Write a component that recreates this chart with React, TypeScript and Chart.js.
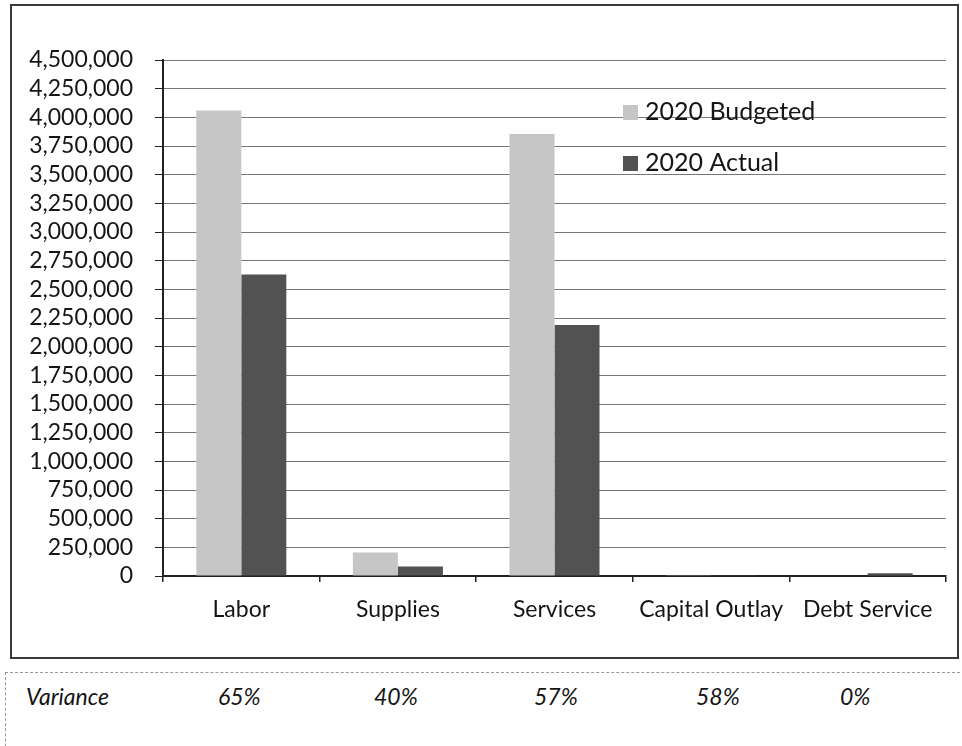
import React, { useEffect, useRef } from "react";
import { Chart, registerables } from "chart.js";

Chart.register(...registerables);

const categories = ["Labor", "Supplies", "Services", "Capital Outlay", "Debt Service"];
const budgeted2020 = [4060000, 206000, 3855000, 3000, 0];
const actual2020 = [2630000, 82000, 2190000, 1750, 24000];
const seriesLabels = ["2020 Budgeted", "2020 Actual"];
const varianceTitle = "Variance";
const varianceLabels = ["65%", "40%", "57%", "58%", "0%"];
const yMax = 4500000;
const yStep = 250000;

const FONT = "Lato, 'Noto Sans', sans-serif";
const FONT_SIZE = 23;
const LEGEND_SIZE = 25;
const varianceLeft = [218, 374, 534, 696, 840];
const legendY = [112, 163];

const insideLegend = {
  id: "insideLegend",
  afterDraw(chart: any) {
    const ctx = chart.ctx;
    ctx.save();
    chart.data.datasets.forEach((ds: any, i: number) => {
      const y = legendY[i];
      ctx.fillStyle = ds.backgroundColor;
      ctx.fillRect(623, y - 7, 15, 15);
      ctx.fillStyle = "#151515";
      ctx.font = `${LEGEND_SIZE}px ${FONT}`;
      ctx.textBaseline = "middle";
      ctx.textAlign = "left";
      ctx.fillText(ds.label, 645, y);
    });
    ctx.restore();
  },
};

export default function App() {
  const ref = useRef<HTMLCanvasElement>(null);
  useEffect(() => {
    const chart = new Chart(ref.current!, {
      type: "bar",
      data: {
        labels: categories,
        datasets: [
          { label: seriesLabels[0], data: budgeted2020, backgroundColor: "#c6c6c6" },
          { label: seriesLabels[1], data: actual2020, backgroundColor: "#525252" },
        ],
      },
      options: {
        animation: false,
        responsive: false,
        maintainAspectRatio: false,
        devicePixelRatio: 1,
        layout: { padding: { left: 0, top: 60, right: 16, bottom: 14 } },
        datasets: { bar: { categoryPercentage: 0.575, barPercentage: 1 } },
        plugins: { legend: { display: false }, tooltip: { enabled: false } },
        scales: {
          x: {
            grid: { drawOnChartArea: false, drawTicks: true, tickLength: 6, color: "#222", lineWidth: 1.5 },
            border: { display: true, color: "#222", width: 2 },
            ticks: { color: "#151515", font: { family: FONT, size: FONT_SIZE }, padding: 14, maxRotation: 0, autoSkip: false },
            afterFit(scale: any) { scale.height = 70; },
          },
          y: {
            min: 0,
            max: yMax,
            grid: { color: "#777777", lineWidth: 1, tickLength: 8, tickColor: "#222" },
            border: { display: true, color: "#222", width: 2 },
            ticks: {
              stepSize: yStep,
              autoSkip: false,
              color: "#151515",
              font: { family: FONT, size: FONT_SIZE },
              padding: 22,
              callback: (v: any) => Number(v).toLocaleString("en-US"),
            },
            afterFit(scale: any) { scale.width = 163; },
          },
        },
      },
      plugins: [insideLegend],
    });
    return () => chart.destroy();
  }, []);

  const vStyle: React.CSSProperties = { position: "absolute", top: 683, fontFamily: FONT, fontStyle: "italic", fontSize: 23, color: "#151515", lineHeight: "26px" };

  return (
    <div style={{ position: "absolute", left: 0, top: 0, width: 962, height: 746, background: "#fff", overflow: "hidden" }}>
      <div style={{ position: "absolute", left: 10, top: 4, width: 949, height: 655, border: "2px solid #3a3a3a", boxSizing: "border-box" }} />
      <canvas ref={ref} width={962} height={660} style={{ position: "absolute", left: 0, top: 0, width: 962, height: 660 }} />
      <div style={{ position: "absolute", left: 5, top: 672, width: 970, height: 90, borderTop: "1px dashed #999", borderLeft: "1px dashed #999", boxSizing: "border-box" }} />
      <div style={{ ...vStyle, left: 26 }}>{varianceTitle}</div>
      {varianceLabels.map((t, i) => (
        <div key={i} style={{ ...vStyle, left: varianceLeft[i] }}>{t}</div>
      ))}
    </div>
  );
}
